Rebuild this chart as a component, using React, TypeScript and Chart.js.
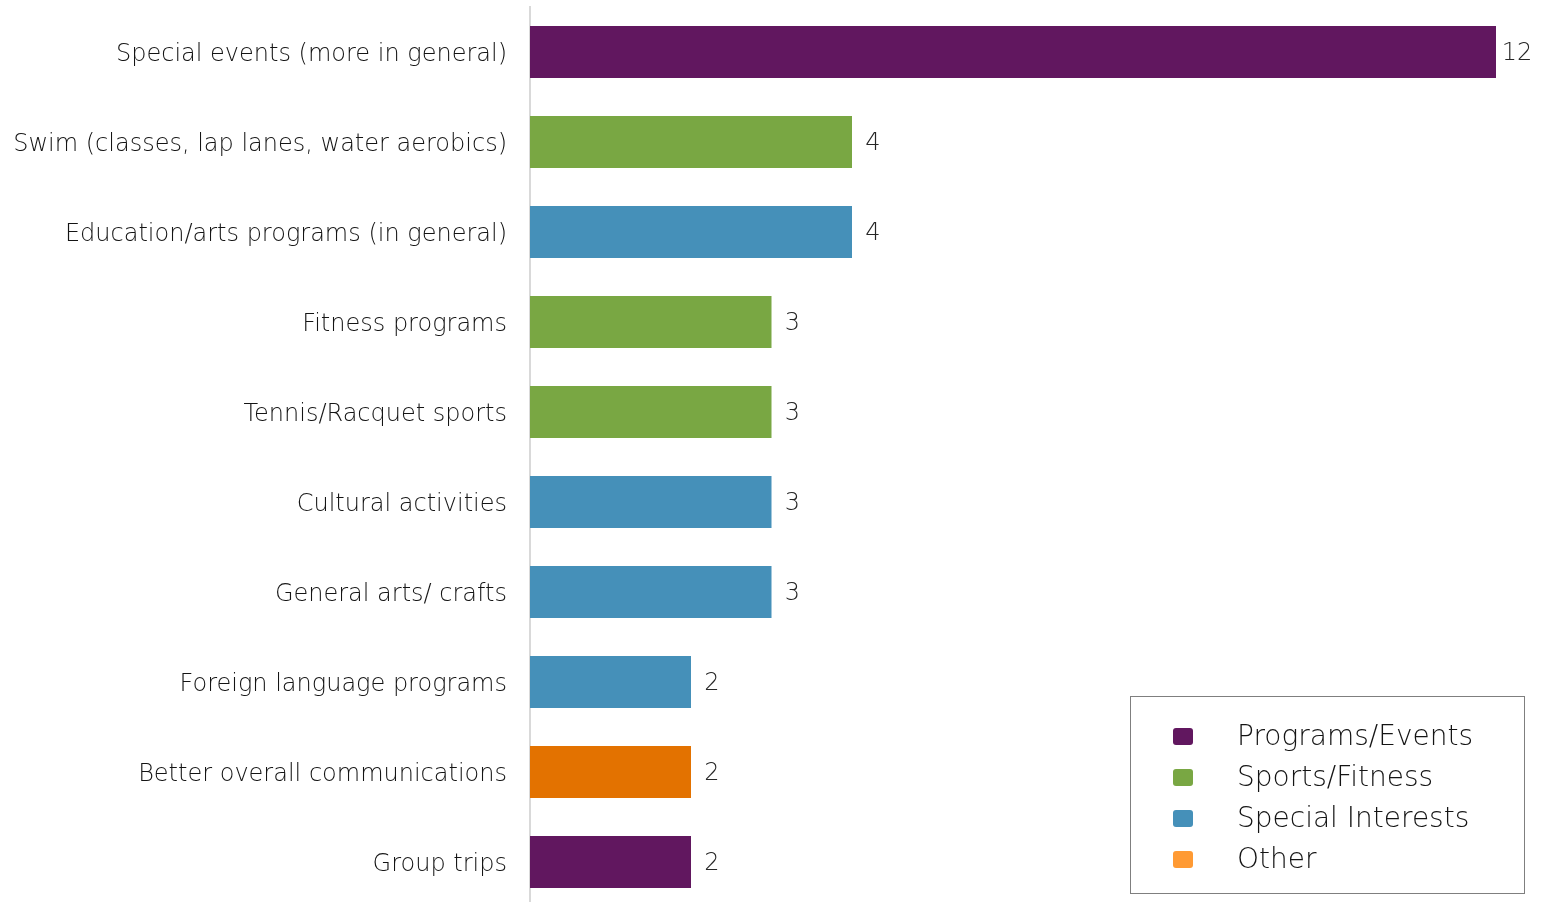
import React, { useEffect, useRef } from "react";
import { Chart, registerables } from "chart.js";

Chart.register(...registerables);

const categories = [
  "Special events (more in general)",
  "Swim (classes, lap lanes, water aerobics)",
  "Education/arts programs (in general)",
  "Fitness programs",
  "Tennis/Racquet sports",
  "Cultural activities",
  "General arts/ crafts",
  "Foreign language programs",
  "Better overall communications",
  "Group trips",
];
const values = [12, 4, 4, 3, 3, 3, 3, 2, 2, 2];
const groups = [
  "Programs/Events",
  "Sports/Fitness",
  "Special Interests",
  "Sports/Fitness",
  "Sports/Fitness",
  "Special Interests",
  "Special Interests",
  "Special Interests",
  "Other",
  "Programs/Events",
];
const groupNames = ["Programs/Events", "Sports/Fitness", "Special Interests", "Other"];
const barColors = ["#61175F", "#79A743", "#4590B9", "#E37200"];
const legendColors = ["#61175F", "#79A743", "#4590B9", "#FF9A33"];

const FONT = "'DejaVu Sans', sans-serif";
const TEXT = "#141414";

const valueLabels = {
  id: "valueLabels",
  afterDatasetsDraw(chart: any) {
    const ctx = chart.ctx;
    const meta = chart.getDatasetMeta(0);
    ctx.save();
    ctx.font = `200 24px ${FONT}`;
    ctx.fillStyle = "#262626";
    ctx.textAlign = "center";
    ctx.textBaseline = "middle";
    meta.data.forEach((el: any, i: number) => {
      ctx.fillText(String(values[i]), el.x + 21, el.y + 2);
    });
    ctx.restore();
  },
};

const boxLegend = {
  id: "boxLegend",
  afterDraw(chart: any) {
    const ctx = chart.ctx;
    ctx.save();
    ctx.strokeStyle = "#7f7f7f";
    ctx.lineWidth = 1;
    ctx.strokeRect(1130.5, 696.5, 394, 197);
    ctx.font = `200 28px ${FONT}`;
    ctx.textAlign = "left";
    ctx.textBaseline = "middle";
    groupNames.forEach((name, i) => {
      const cy = 736 + i * 41;
      ctx.fillStyle = legendColors[i];
      ctx.beginPath();
      (ctx as any).roundRect(1173, cy - 8, 20, 17, 3);
      ctx.fill();
      ctx.fillStyle = TEXT;
      ctx.fillText(name, 1237, cy + 2);
    });
    ctx.restore();
  },
};

export default function App() {
  const ref = useRef<HTMLCanvasElement>(null);
  useEffect(() => {
    if (!ref.current) return;
    const chart = new Chart(ref.current, {
      type: "bar",
      data: {
        labels: categories,
        datasets: [
          {
            data: values,
            backgroundColor: groups.map((g) => barColors[groupNames.indexOf(g)]),
            barPercentage: 0.58,
            categoryPercentage: 1,
          },
        ],
      },
      options: {
        indexAxis: "y",
        responsive: false,
        animation: false,
        devicePixelRatio: 1,
        layout: { padding: { top: 7, bottom: 3, right: 46, left: 0 } },
        plugins: { legend: { display: false }, tooltip: { enabled: false } },
        scales: {
          x: { display: false, min: 0, max: 12 },
          y: {
            afterFit(scale: any) {
              scale.width = 530;
              scale.paddingTop = 0;
              scale.paddingBottom = 0;
            },
            grid: { display: false },
            border: { display: true, color: "#d9d9d9", width: 2 },
            ticks: {
              color: TEXT,
              padding: 15,
              labelOffset: 3,
              font: { family: FONT, size: 24, weight: "200" as any },
            },
          },
        },
      },
      plugins: [valueLabels, boxLegend],
    });
    return () => chart.destroy();
  }, []);
  return (
    <div style={{ position: "absolute", left: 0, top: 0, width: 1542, height: 910 }}>
      <canvas ref={ref} width={1542} height={910} />
    </div>
  );
}
